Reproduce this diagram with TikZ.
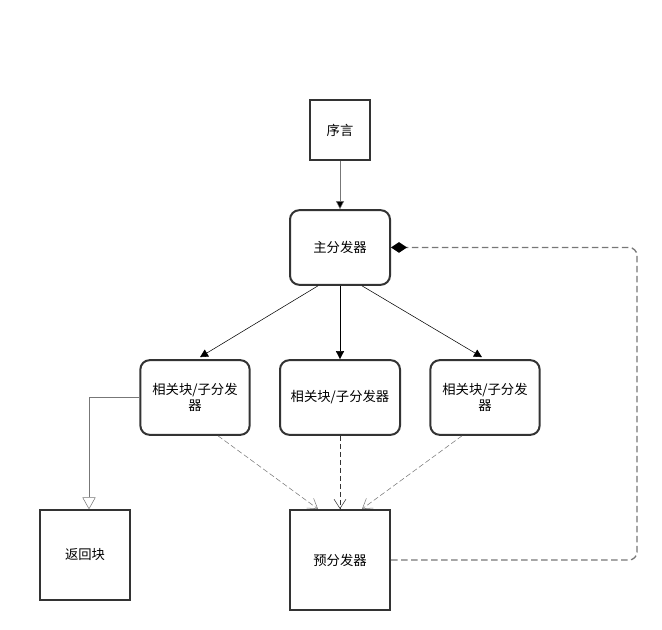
\documentclass[tikz,border=0pt]{standalone}
\usepackage{fontspec}
\setmainfont{Noto Sans CJK SC}
\usepackage{tikz}
\usetikzlibrary{calc,shapes,arrows.meta}
\definecolor{boxline}{HTML}{333333}
\definecolor{greyline}{HTML}{777777}
\tikzset{
  plainbox/.style={draw=boxline,line width=1.5pt,rectangle,inner sep=0pt,font=\fontsize{10}{12.5}\selectfont,align=center},
  roundbox/.style={plainbox,rounded corners=7pt},
  solidarrow/.style={-{Triangle[length=6pt,width=6pt]},thin,black},
  dasharrow/.style={-{Straight Barb[length=7pt,width=9pt]},thin,greyline,dash pattern=on 4pt off 2pt},
}

\begin{document}
\begin{tikzpicture}[x=0.75pt,y=-0.75pt]
  \useasboundingbox (0,0) rectangle (662,630);

  % top part
  \node [plainbox,minimum width=45pt,minimum height=45pt] (pre) at (340,130) {序言};
  \node [roundbox,minimum width=75pt,minimum height=56pt] (main) at (340,247.5) {主分发器};
  \path [solidarrow,draw=greyline] (pre) edge (main);

  % related blocks
  \node [roundbox,minimum width=82pt,minimum height=56pt] (subl) at (195,397.5) {相关块/子分发\\器};
  \node [roundbox,minimum width=90pt,minimum height=56pt] (subm) at (340,397.5) {相关块/子分发器};
  \node [roundbox,minimum width=82pt,minimum height=56pt] (subr) at (485,397.5) {相关块/子分发\\器};
  \path [solidarrow] ($(main.south)+(-22,0)$) edge ($(subl.north)+(5,-2)$);
  \path [solidarrow] (main) edge (subm);
  \path [solidarrow] ($(main.south)+(22,0)$) edge ($(subr.north)+(-3,-2)$);

  % bottom part
  \node [plainbox,minimum width=67pt,minimum height=67pt] (ret) at (85,555) {返回块};
  \node [plainbox,minimum width=75pt,minimum height=75pt] (pred) at (340,560) {预分发器};
  \draw [greyline,thin,-{Triangle[open,length=9pt,width=10pt]}] (subl.west) -| ($(ret.north)+(4,0)$);

  \path [dasharrow] ($(subl.south)+(23,0)$) edge ($(pred.north)+(-22,0)$);
  \path [dasharrow,boxline] (subm) edge (pred);
  \path [dasharrow] ($(subr.south)+(-23,0)$) edge ($(pred.north)+(22,0)$);

  % feedback loop
  \coordinate (loop) at (637,0);
  \draw [greyline,line width=1pt,dash pattern=on 5pt off 2.5pt,rounded corners=6pt,
         -{Diamond[fill=black,color=black,length=12pt,width=8pt]}]
    (pred.east) -| (loop |- main.east) -- (main.east);
\end{tikzpicture}
\end{document}
